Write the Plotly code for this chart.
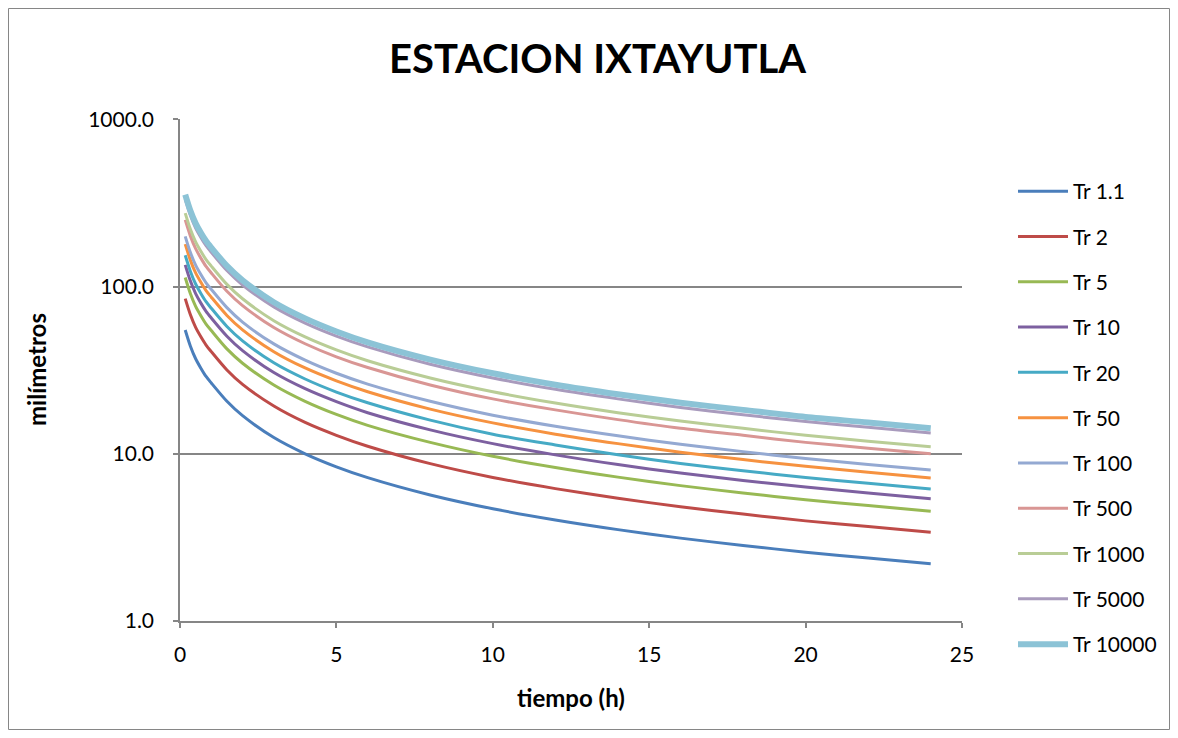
import plotly.graph_objects as go

# Duration (hours)
tiempo = [0.167, 0.333, 0.5, 0.667, 0.833, 1, 1.5, 2, 3, 4, 5, 6, 8, 10, 12, 14, 16, 18, 20, 22, 24]

tr_1_1 = [55.0, 44.0, 37.0, 32.5, 29.0, 26.5, 20.6, 16.9, 12.5, 10.0, 8.36, 7.2, 5.67, 4.69, 4.02, 3.52, 3.13, 2.83, 2.58, 2.38, 2.2]
tr_2 = [84.7, 67.8, 57.0, 50.1, 44.7, 40.8, 31.7, 26.0, 19.3, 15.4, 12.9, 11.1, 8.73, 7.22, 6.19, 5.42, 4.82, 4.36, 3.97, 3.67, 3.39]
tr_5 = [113.3, 90.6, 76.2, 67.0, 59.7, 54.6, 42.4, 34.8, 25.8, 20.6, 17.2, 14.8, 11.7, 9.66, 8.28, 7.25, 6.45, 5.83, 5.31, 4.90, 4.53]
tr_10 = [134.8, 107.8, 90.7, 79.6, 71.1, 64.9, 50.5, 41.4, 30.6, 24.5, 20.5, 17.6, 13.9, 11.5, 9.85, 8.62, 7.67, 6.93, 6.32, 5.83, 5.39]
tr_20 = [154.0, 123.2, 103.6, 91.0, 81.2, 74.2, 57.7, 47.3, 35.0, 28.0, 23.4, 20.2, 15.9, 13.1, 11.3, 9.86, 8.76, 7.92, 7.22, 6.66, 6.16]
tr_50 = [179.3, 143.4, 120.6, 106.0, 94.5, 86.4, 67.2, 55.1, 40.8, 32.6, 27.3, 23.5, 18.5, 15.3, 13.1, 11.5, 10.2, 9.23, 8.41, 7.76, 7.17]
tr_100 = [199.7, 159.7, 134.3, 118.0, 105.3, 96.2, 74.8, 61.3, 45.4, 36.3, 30.3, 26.1, 20.6, 17.0, 14.6, 12.8, 11.4, 10.3, 9.37, 8.64, 7.99]
tr_500 = [250.3, 200.2, 168.4, 147.9, 132.0, 120.6, 93.7, 76.9, 56.9, 45.5, 38.0, 32.8, 25.8, 21.3, 18.3, 16.0, 14.2, 12.9, 11.7, 10.8, 10.0]
tr_1000 = [275.0, 220.0, 185.0, 162.5, 145.0, 132.5, 103.0, 84.5, 62.5, 50.0, 41.8, 36.0, 28.4, 23.5, 20.1, 17.6, 15.7, 14.2, 12.9, 11.9, 11.0]
tr_5000 = [332.8, 266.2, 223.9, 196.6, 175.5, 160.3, 124.6, 102.2, 75.6, 60.5, 50.6, 43.6, 34.3, 28.4, 24.3, 21.3, 18.9, 17.1, 15.6, 14.4, 13.3]
tr_10000 = [354.8, 283.8, 238.7, 209.6, 187.1, 170.9, 132.9, 109.0, 80.6, 64.5, 53.9, 46.4, 36.6, 30.3, 25.9, 22.7, 20.2, 18.3, 16.6, 15.4, 14.2]

series_names = ["Tr 1.1", "Tr 2", "Tr 5", "Tr 10", "Tr 20", "Tr 50", "Tr 100",
                "Tr 500", "Tr 1000", "Tr 5000", "Tr 10000"]
series_values = [tr_1_1, tr_2, tr_5, tr_10, tr_20, tr_50, tr_100,
                 tr_500, tr_1000, tr_5000, tr_10000]
colors = ["#4A7EBB", "#BE4B48", "#98B954", "#7D60A0", "#46AAC5", "#F69240",
          "#94A9D2", "#D99694", "#B9CD96", "#A99BBD", "#8CC3D6"]
widths = [3, 3, 3, 3, 3, 3, 3, 3, 3, 3, 6]

y_tickvals = [1, 10, 100, 1000]
y_ticktext = ["1.0", "10.0", "100.0", "1000.0"]
x_tickvals = [0, 5, 10, 15, 20, 25]

FONT = "Lato, 'Open Sans', sans-serif"

fig = go.Figure()
for name, vals, col, w in zip(series_names, series_values, colors, widths):
    fig.add_trace(go.Scatter(
        x=tiempo, y=vals, name=name, mode="lines",
        line=dict(color=col, width=w, shape="spline", smoothing=0.8),
        legendgroup=name,
    ))

# page offset of the figure (body margin) in screen pixels
OFF = 8
W, H = 1162, 722
# plot area in screen coordinates
SX0, SX1, SY0, SY1 = 180, 962, 119, 621
L, R = SX0 - OFF, W - (SX1 - OFF)
T, B = SY0 - OFF, H - (SY1 - OFF)
pw, ph = W - L - R, H - T - B

def px_x(p):
    return (p - OFF - L) / pw

def px_y(p):
    return (H - B - (p - OFF)) / ph

fig.update_layout(
    width=W, height=H,
    margin=dict(l=L, r=R, t=T, b=B, autoexpand=False),
    paper_bgcolor="white", plot_bgcolor="white",
    font=dict(family=FONT, size=21, color="#000000"),
    showlegend=True,
    legend=dict(
        x=px_x(1013), y=px_y(171), xanchor="left", yanchor="top",
        font=dict(family=FONT, size=21, color="#000000"),
        tracegroupgap=15, itemwidth=50,
        bgcolor="rgba(0,0,0,0)",
    ),
    annotations=[
        dict(text="<b>ESTACION IXTAYUTLA</b>", x=px_x(597), y=px_y(58),
             xref="paper", yref="paper", showarrow=False,
             font=dict(family=FONT, size=40, color="#000000"),
             xanchor="center", yanchor="middle"),
        dict(text="<b>tiempo (h)</b>", x=px_x(571), y=px_y(697),
             xref="paper", yref="paper", showarrow=False,
             font=dict(family=FONT, size=24, color="#000000"),
             xanchor="center", yanchor="middle"),
        dict(text="<b>milímetros</b>", x=px_x(36), y=px_y(370),
             xref="paper", yref="paper", showarrow=False, textangle=-90,
             font=dict(family=FONT, size=24, color="#000000"),
             xanchor="center", yanchor="middle"),
    ],
    shapes=[
        dict(type="rect", xref="paper", yref="paper",
             x0=px_x(OFF + 0.5), x1=px_x(OFF + W - 0.5),
             y0=px_y(OFF + H - 0.5), y1=px_y(OFF + 0.5),
             line=dict(color="#868686", width=1), fillcolor="rgba(0,0,0,0)",
             layer="below"),
    ],
)

fig.update_xaxes(
    range=[0, 25], tickvals=x_tickvals, ticktext=[str(v) for v in x_tickvals],
    showgrid=False, zeroline=False,
    showline=True, linecolor="#868686", linewidth=1.5,
    ticks="outside", ticklen=5, tickcolor="#868686", tickwidth=1.5,
    tickfont=dict(family=FONT, size=21, color="#000000"),
    ticklabelstandoff=9,
)
fig.update_yaxes(
    type="log", range=[0, 3.002], tickvals=y_tickvals, ticktext=y_ticktext,
    showgrid=True, gridcolor="#868686", gridwidth=1.5,
    zeroline=False,
    showline=True, linecolor="#868686", linewidth=1.5,
    ticks="outside", ticklen=5, tickcolor="#868686", tickwidth=1.5,
    tickfont=dict(family=FONT, size=21, color="#000000"),
    ticklabelstandoff=15,
)

fig.write_html("out.html")
